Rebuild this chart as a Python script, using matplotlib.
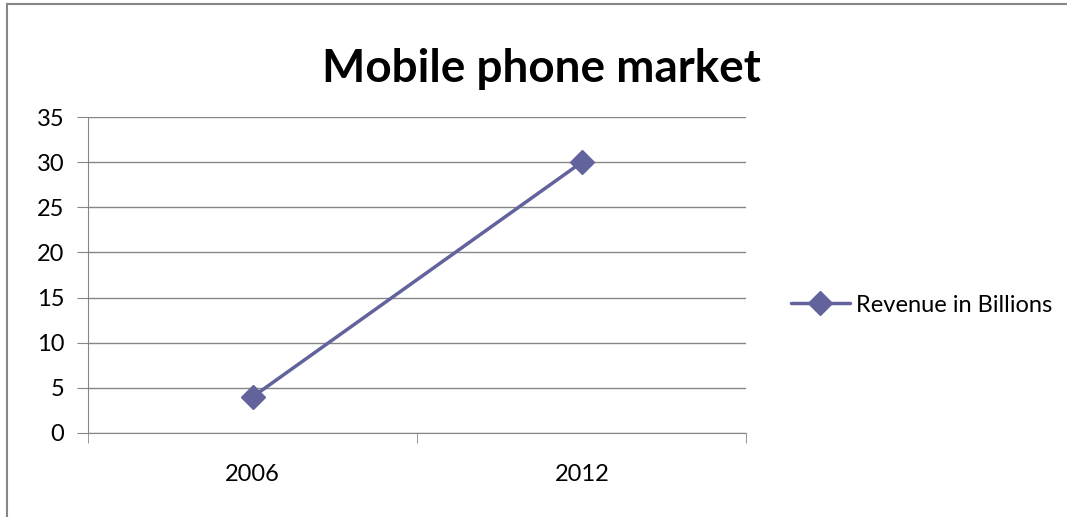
import matplotlib.pyplot as plt
from matplotlib.patches import Rectangle

years = ['2006', '2012']
revenue = [4, 30]
series_name = 'Revenue in Billions'

plt.rcParams['font.family'] = ['Lato', 'DejaVu Sans']

fig = plt.figure(figsize=(10.67, 5.17), dpi=100)
ax = fig.add_axes([0.0825, 0.1625, 0.617, 0.611])

x = [i + 0.5 for i in range(len(years))]
ax.plot(x, revenue, color='#62629C', lw=2.5, marker='D', ms=12,
        label=series_name, solid_capstyle='round')

ax.set_xlim(0, len(years))
ax.set_ylim(0, 35)
ax.set_yticks(range(0, 36, 5))
ax.set_xticks(x, years)
# tick marks sit on category boundaries, labels in between
ax.set_xticks(range(len(years) + 1), minor=True)
ax.tick_params(axis='x', which='major', length=0, pad=22, labelsize=17)
ax.tick_params(axis='x', which='minor', length=7, color='#868686', direction='out')
ax.tick_params(axis='y', length=8, color='#868686', labelsize=17, pad=9)

ax.grid(axis='y', color='#868686', lw=1)
ax.set_axisbelow(True)
for s in ['top', 'right']:
    ax.spines[s].set_visible(False)
ax.spines['left'].set_color('#868686')
ax.spines['bottom'].set_color('#868686')

fig.text(0.507, 0.866, 'Mobile phone market', ha='center', va='center',
         fontsize=33, fontweight='bold')

ax.legend(loc='center left', bbox_to_anchor=(1.035, 0.405), frameon=False,
          fontsize=17, handlelength=2.5, handletextpad=0.25)

fig.patches.append(Rectangle((0.0066, -0.1), 1.1, 1.092, transform=fig.transFigure,
                             fill=False, ec='#868686', lw=1.5))

fig.savefig('out.png', dpi=100)
